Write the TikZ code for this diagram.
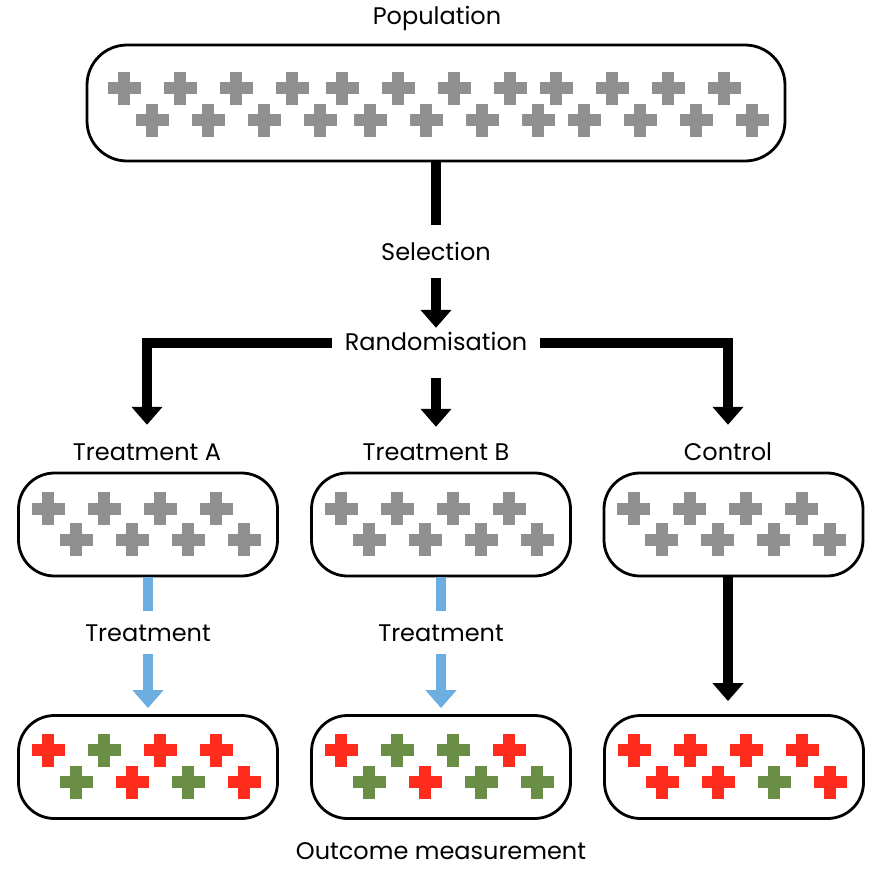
\documentclass[tikz,border=0pt]{standalone}
\usepackage{fontspec}
\setmainfont{Poppins}
\usetikzlibrary{arrows.meta,calc}

\definecolor{plusgray}{HTML}{8F8F8F}
\definecolor{plusred}{HTML}{FF2B1C}
\definecolor{plusgreen}{HTML}{6B8E47}
\definecolor{treatblue}{HTML}{6BAEDF}

\tikzset{
  pics/crossmark/.style={code={
      \fill[fill=#1] (-16.5,-6) rectangle (16.5,6);
      \fill[fill=#1] (-6,-16.5) rectangle (6,16.5);
    }},
  group/.style={draw, line width=2.8pt, rounded corners=36pt,
    minimum width=259pt, minimum height=103pt},
  caption/.style={font=\fontsize{24}{28}\selectfont, inner sep=0pt,
    text height=19pt, text depth=5pt},
  flow/.style={line width=10pt, -{Triangle[width=30pt,length=18pt]}},
}

\begin{document}
\begin{tikzpicture}[x=1pt,y=-1pt]
		\useasboundingbox (0,0) rectangle (868,870);
		\node[caption] (poplabel) at (437,17) {Population};
		\node[group, minimum width=698pt, minimum height=116pt, rounded corners=40pt] (pop) at (436,103) {};
		\foreach \gx in {224,442,656}
		\foreach \i in {0,...,3}{
				\pic at ({\gx-100+56*\i},88) {crossmark=plusgray};
				\pic at ({\gx-72+56*\i},120) {crossmark=plusgray};
			};
		\node[caption] (sel) at (436,253) {Selection};
		\node[caption] (rand) at (436,343) {Randomisation};
		\node[caption] (ta) at (147,453) {Treatment A};
		\node[caption] (tb) at (436,453) {Treatment B};
		\node[caption] (ctrl) at (728,453) {Control};
		\node[group] (boxa) at (148,524.5) {};
		\node[group] (boxb) at (441,524.5) {};
		\node[group] (boxc) at (733.5,524.5) {};
		\foreach \b in {boxa,boxb,boxc}
		\foreach \i in {0,...,3}{
				\pic at ($(\b)+({-100+56*\i},-16)$) {crossmark=plusgray};
				\pic at ($(\b)+({-72+56*\i},15)$) {crossmark=plusgray};
			};
		\node[caption] (trta) at (148,634) {Treatment};
		\node[caption] (trtb) at (441,634) {Treatment};
		\node[group] (outa) at (148,767) {};
		\node[group] (outb) at (441,767) {};
		\node[group] (outc) at (734,767) {};
		\foreach \b/\toprow/\botrow in {
				outa/{plusred,plusgreen,plusred,plusred}/{plusgreen,plusred,plusgreen,plusred},
				outb/{plusred,plusgreen,plusgreen,plusred}/{plusgreen,plusred,plusgreen,plusgreen},
				outc/{plusred,plusred,plusred,plusred}/{plusred,plusred,plusgreen,plusred}}{
				\foreach \c [count=\i from 0] in \toprow
				\pic at ($(\b)+({-100+56*\i},-17)$) {crossmark=\c};
				\foreach \c [count=\i from 0] in \botrow
				\pic at ($(\b)+({-72+56*\i},15)$) {crossmark=\c};
			};
		\node[caption, text depth=2pt] (outcome) at (441,851) {Outcome measurement};
		% connectors
		\draw[line width=10pt, shorten >=16pt] (pop.south) -- (sel.north);
		\draw[flow, shorten <=13pt, shorten >=3pt] (sel.south) -- (rand.north);
		\draw[flow, line join=miter, shorten <=13pt, shorten >=16pt] (rand.west) -| (ta.north);
		\draw[flow, shorten <=23pt, shorten >=14pt] (rand.south) -- (tb.north);
		\draw[flow, line join=miter, shorten <=13pt, shorten >=16pt] (rand.east) -| (ctrl.north);
		\draw[line width=10pt, treatblue, shorten >=11pt] (boxa.south) -- (trta.north);
		\draw[flow, treatblue, shorten <=8pt, shorten >=6pt] (trta.south) -- (outa.north);
		\draw[line width=10pt, treatblue, shorten >=11pt] (boxb.south) -- (trtb.north);
		\draw[flow, treatblue, shorten <=8pt, shorten >=6pt] (trtb.south) -- (outb.north);
		\draw[flow, shorten >=13pt] (boxc.south -| ctrl) -- (outc.north -| ctrl);
	\end{tikzpicture}
\end{document}
